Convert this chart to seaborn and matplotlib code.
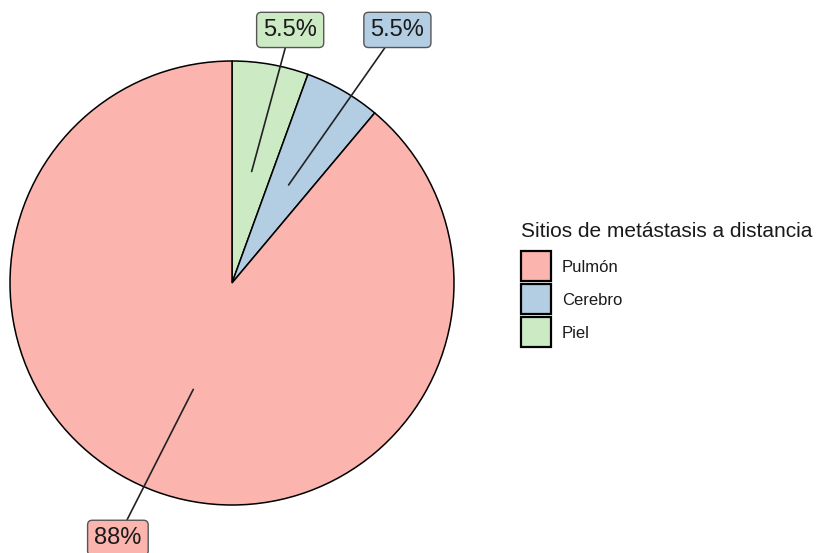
import numpy as np
import matplotlib
matplotlib.use("Agg")
import matplotlib.pyplot as plt
import seaborn as sns
from matplotlib.patches import Patch

# Data (clockwise from 12 o'clock)
categories = ["Piel", "Cerebro", "Pulmón"]
values = [5.5, 5.5, 88.0]
labels = ["5.5%", "5.5%", "88%"]
legend_order = ["Pulmón", "Cerebro", "Piel"]
legend_title = "Sitios de metástasis a distancia"

sns.set_theme(style="white")
plt.rcParams['font.family'] = ['Liberation Sans', 'DejaVu Sans']

colors = {"Pulmón": "#FBB4AE", "Cerebro": "#B3CDE3", "Piel": "#CCEBC5"}

W, H = 817, 553
fig = plt.figure(figsize=(W / 100, H / 100), dpi=100)
cx, cy, R = 232, 283, 222
ax = fig.add_axes([(cx - R) / W, (H - cy - R) / H, 2 * R / W, 2 * R / H])

wedges, _ = ax.pie(values, colors=[colors[c] for c in categories], startangle=90,
                   counterclock=False, radius=1.0,
                   wedgeprops=dict(edgecolor="black", linewidth=1.1))
ax.set_xlim(-1, 1)
ax.set_ylim(-1, 1)
ax.set_aspect("equal")
ax.axis("off")

# label box positions (data units, relative to pie radius)
label_pos = [(0.262, 1.14), (0.745, 1.14), (-0.514, -1.148)]
cum = np.cumsum([0] + values)
for i, c in enumerate(categories):
    mid = (cum[i] + cum[i + 1]) / 2 / sum(values) * 360
    th = np.deg2rad(90 - mid)
    r0 = 0.51
    start = (r0 * np.cos(th), r0 * np.sin(th))
    ax.annotate(labels[i], xy=start, xytext=label_pos[i], ha="center", va="center",
                fontsize=17, color="#1a1a1a", annotation_clip=False,
                bbox=dict(boxstyle="round,pad=0.28,rounding_size=0.2", fc=colors[c],
                          ec="#555555", lw=1.0),
                arrowprops=dict(arrowstyle="-", color="#222222", lw=1.2,
                                shrinkA=0, shrinkB=0))

handles = [Patch(facecolor=colors[c], edgecolor="black", linewidth=1.6, label=c)
           for c in legend_order]
fs = 12
fpx = fs * 100 / 72
key = 30 / fpx
hh = (key - 0.245) / 0.65
leg = fig.legend(handles=handles, title=legend_title, loc="upper left",
                 bbox_to_anchor=(521 / W, 1 - 222 / H), frameon=False,
                 fontsize=fs, title_fontsize=15, alignment="left",
                 handlelength=key, handleheight=hh,
                 labelspacing=3 / fpx,
                 handletextpad=0.65, borderpad=0, borderaxespad=0)
leg._legend_box.sep = 7.5  # gap between title and keys (points)
for t in leg.get_texts():
    t.set_color("#1a1a1a")
leg.get_title().set_color("#1a1a1a")

fig.savefig("out.png", dpi=100, facecolor="white")
